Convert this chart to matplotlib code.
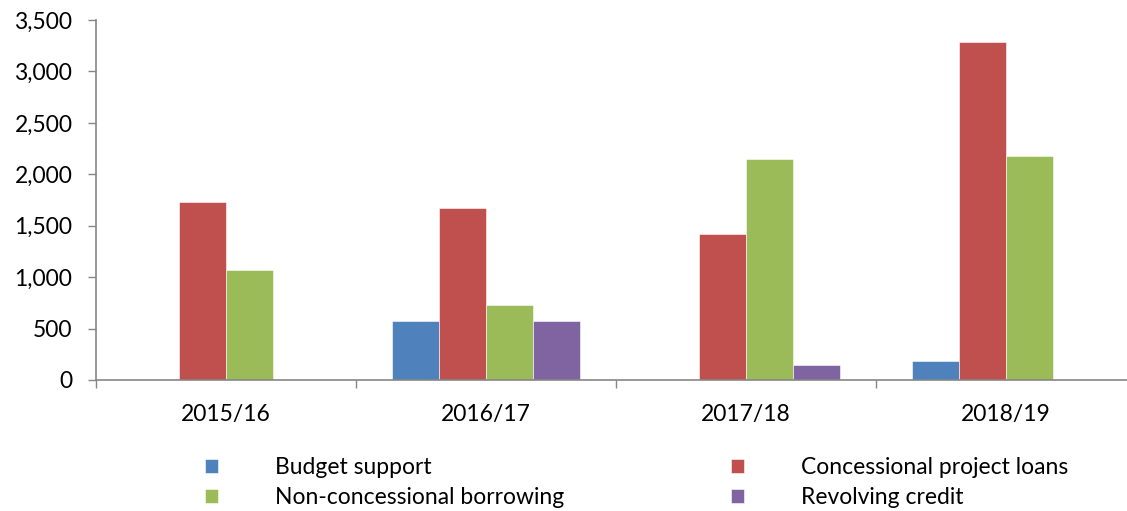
import numpy as np
import matplotlib.pyplot as plt
from matplotlib.ticker import FuncFormatter

# Financing by type per fiscal year
years = ["2015/16", "2016/17", "2017/18", "2018/19"]
budget_support = [0, 570, 0, 185]
concessional_loans = [1735, 1670, 1420, 3290]
non_concessional = [1070, 730, 2150, 2180]
revolving_credit = [0, 570, 145, 0]

series = [
    ("Budget support", budget_support, "#4F81BD"),
    ("Concessional project loans", concessional_loans, "#C0504D"),
    ("Non-concessional borrowing", non_concessional, "#9BBB59"),
    ("Revolving credit", revolving_credit, "#8064A2"),
]

plt.rcParams['font.family'] = ['Lato', 'DejaVu Sans']
fs = 16.5

fig = plt.figure(figsize=(11.27, 5.11), dpi=100)
ax = fig.add_axes([96 / 1127, 1 - 380 / 511, 1040 / 1127, 360 / 511])

x = np.arange(len(years))
width = 0.18
bars = []
for i, (name, vals, color) in enumerate(series):
    b = ax.bar(x + (i - 1.5) * width, vals, width, color=color, label=name,
               edgecolor="white", linewidth=0.4)
    bars.append(b)

ax.set_xlim(-0.5, 3.5)
ax.set_ylim(0, 3500)
ax.set_yticks(range(0, 3501, 500))
ax.yaxis.set_major_formatter(FuncFormatter(lambda v, p: f"{int(v):,}"))

ax.set_xticks(x)
ax.set_xticklabels(years)
ax.set_xticks(np.arange(-0.5, 4, 1), minor=True)
ax.tick_params(axis="x", which="major", length=0, pad=17, labelsize=fs)
ax.tick_params(axis="x", which="minor", length=6, color="#868686", width=1)
ax.tick_params(axis="y", length=6, color="#868686", width=1, pad=11, labelsize=fs)

for side in ("top", "right"):
    ax.spines[side].set_visible(False)
for side in ("left", "bottom"):
    ax.spines[side].set_color("#868686")
    ax.spines[side].set_linewidth(1.2)

order = [0, 2, 1, 3]
fig.legend([bars[i] for i in order], [series[i][0] for i in order],
           ncol=2, loc="upper left", bbox_to_anchor=(205 / 1127, 1 - 457 / 511),
           frameon=False, fontsize=fs, handlelength=0.55, handleheight=0.55,
           handletextpad=2.5, columnspacing=7.3, labelspacing=0.4,
           borderaxespad=0, borderpad=0)

fig.savefig("out.png", dpi=100)
